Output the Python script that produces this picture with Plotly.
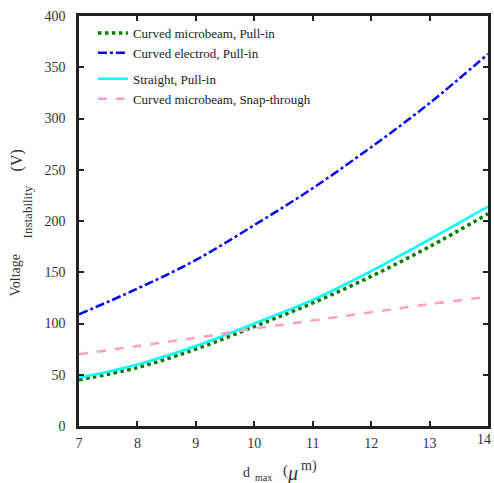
import plotly.graph_objects as go

d_max = [7, 8, 9, 10, 11, 12, 13, 14]
curved_microbeam_pullin = [45, 57, 75, 97, 120, 146, 175, 207]
curved_electrode_pullin = [109, 134, 162, 196, 232, 272, 315, 363]
straight_pullin = [47, 60, 78, 100, 123, 151, 182, 214]
curved_microbeam_snap = [70, 78, 86, 95, 103, 111, 119, 126]

x_ticks = [7, 8, 9, 10, 11, 12, 13, 14]
x_tick_text = ["7", "8", "9", "10", "11", "12", "13", ""]
y_ticks = [0, 50, 100, 150, 200, 250, 300, 350, 400]

FONT = "Liberation Serif"
W, H = 494, 483
L, R, T, B = 79, 3, 16, 57

fig = go.Figure()
fig.add_trace(go.Scatter(x=d_max, y=curved_microbeam_pullin, mode="lines", line_shape="spline",
                         name="Curved microbeam, Pull-in", legendgroup="a",
                         line=dict(color="#007a00", width=3.5, dash="dot")))
fig.add_trace(go.Scatter(x=d_max, y=curved_electrode_pullin, mode="lines", line_shape="spline",
                         name="Curved electrod, Pull-in", legendgroup="a",
                         line=dict(color="#0000ff", width=2.5, dash="dashdot")))
fig.add_trace(go.Scatter(x=d_max, y=straight_pullin, mode="lines", line_shape="spline",
                         name="Straight, Pull-in", legendgroup="b",
                         line=dict(color="#00ffff", width=2.5)))
fig.add_trace(go.Scatter(x=d_max, y=curved_microbeam_snap, mode="lines", line_shape="spline",
                         name="Curved microbeam, Snap-through", legendgroup="b",
                         line=dict(color="#ff9ec8", width=2.5, dash="dash")))

axis_common = dict(showline=True, linecolor="#222", linewidth=2.5, mirror="ticks",
                   ticks="inside", ticklen=5, tickwidth=2, tickcolor="#222",
                   showgrid=False, zeroline=False,
                   tickfont=dict(family=FONT, size=14, color="#333"))

fig.update_xaxes(range=[7, 14], tickvals=x_ticks, ticktext=x_tick_text,
                 ticklabelstandoff=2, **axis_common)
fig.update_yaxes(range=[0, 400], tickvals=y_ticks, ticklabelstandoff=8, **axis_common)

def px(x, y):
    return (x - L) / (W - L - R), (H - B - y) / (H - T - B)

anns = []
def add(text, x, y, size, angle=0):
    xp, yp = px(x, y)
    anns.append(dict(text=text, x=xp, y=yp, xref="paper", yref="paper", showarrow=False,
                     textangle=angle, xanchor="center", yanchor="middle",
                     font=dict(family=FONT, size=size, color="#333")))

add("14", 487, 439, 14)
add("Voltage", 15, 275, 14, -90)
add("Instability", 27, 212, 13, -90)
add("(V)", 17, 160, 16, -90)
add("d", 248, 472, 14)
add("max", 265, 477, 10)
add("(", 287, 470, 15)
add("<i>μ</i>", 294, 473, 20)
add("m)", 311, 466, 14)

fig.update_layout(
    width=W, height=H,
    margin=dict(l=L, r=R, t=T, b=B),
    paper_bgcolor="white", plot_bgcolor="white",
    showlegend=True,
    legend=dict(x=px(93, 0)[0], y=px(0, 18)[1], xanchor="left", yanchor="top",
                bgcolor="rgba(0,0,0,0)", tracegroupgap=6,
                font=dict(family=FONT, size=13, color="#222")),
    annotations=anns,
)

fig.write_html("out.html")
